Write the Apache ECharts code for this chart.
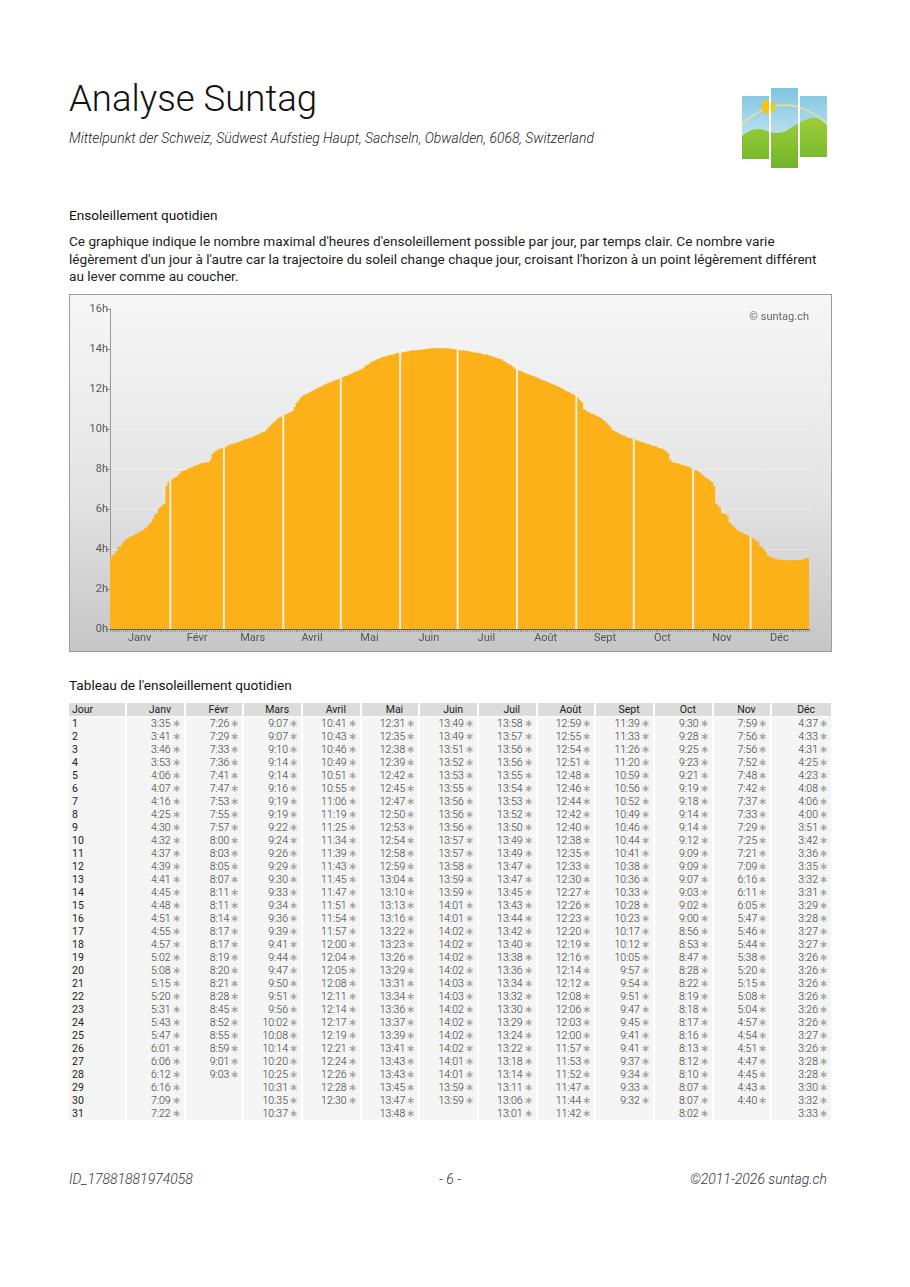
<!DOCTYPE html>
<html lang="fr">
<head>
<meta charset="utf-8">
<title>Analyse Suntag</title>
<script src="https://cdn.jsdelivr.net/npm/echarts@6/dist/echarts.min.js"></script>
<style>
  html, body { margin: 0; padding: 0; background: #fff; }
  body { width: 910px; height: 1287px; position: relative; font-family: Roboto, "Noto Sans", sans-serif; color: #222; }
  .abs { position: absolute; }
  #title { left: 69px; top: 77px; font-size: 36.6px; font-weight: 300; color: #111; white-space: nowrap; }
  #subtitle { left: 69px; top: 130px; font-size: 13.9px; font-style: italic; font-weight: 300; color: #222; white-space: nowrap; }
  #logo { left: 740px; top: 86px; }
  #h1 { left: 69px; top: 207px; font-size: 13.6px; color: #111; }
  #intro { left: 69px; top: 233px; font-size: 13.6px; line-height: 17.6px; color: #222; white-space: nowrap; }
  #chart { left: 69px; top: 294px; width: 763px; height: 358px; box-sizing: border-box; border: 1px solid #9c9c9c;
           background: linear-gradient(to bottom, #f7f7f7 0%, #e4e4e4 55%, #c6c6c6 100%); }
  #h2 { left: 69px; top: 677px; font-size: 13.6px; color: #111; }
  #tbl { left: 69px; top: 703px; width: 762px; border-collapse: separate; border-spacing: 0; table-layout: fixed; font-size: 10.5px; }
  #tbl th { background: #dcdcdc; font-weight: 400; color: #222; height: 13px; line-height: 13px; padding: 0 0 0 9px; text-align: center; border-right: 2px solid #fff; border-bottom: 1px solid #fff; }
  #tbl th:first-child { text-align: left; padding-left: 3px; }
  #tbl td { background: #f5f5f5; height: 13px; line-height: 13px; padding: 0 3px 0 0; text-align: right; font-weight: 300; color: #333; border-right: 2px solid #fff; white-space: nowrap; }
  #tbl td:first-child { text-align: left; padding-left: 3px; font-weight: 400; color: #222; }
  #tbl th:last-child, #tbl td:last-child { border-right: none; }
  #tbl .st { color: #999; margin-left: 1px; }
  .foot { top: 1171px; font-size: 14px; font-style: italic; font-weight: 300; color: #333; white-space: nowrap; }
</style>
</head>
<body>
<div id="title" class="abs">Analyse Suntag</div>
<div id="subtitle" class="abs">Mittelpunkt der Schweiz, Südwest Aufstieg Haupt, Sachseln, Obwalden, 6068, Switzerland</div>

<svg id="logo" class="abs" width="90" height="84" viewBox="0 0 90 84">
  <defs>
    <linearGradient id="sky" x1="0" y1="0" x2="0" y2="1">
      <stop offset="0" stop-color="#7cc3e0"/>
      <stop offset="1" stop-color="#e6f4f9"/>
    </linearGradient>
    <linearGradient id="hill" x1="0" y1="0" x2="0" y2="1">
      <stop offset="0" stop-color="#9ccf3a"/>
      <stop offset="1" stop-color="#6fb327"/>
    </linearGradient>
    <g id="scene">
      <rect x="0" y="0" width="90" height="84" fill="url(#sky)"/>
      <path d="M0 40 Q45 -2 90 40" fill="none" stroke="#eee48a" stroke-width="1.3"/>
      <circle cx="28" cy="21" r="7" fill="#f7c21b"/>
      <path d="M0 52 Q12 40 24 44 Q38 50 48 44 Q58 36 70 32 Q82 30 90 44 L90 84 L0 84 Z" fill="url(#hill)"/>
    </g>
    <clipPath id="p1"><rect x="2" y="10" width="27" height="63"/></clipPath>
    <clipPath id="p2"><rect x="31" y="2" width="27" height="80"/></clipPath>
    <clipPath id="p3"><rect x="60" y="10" width="27" height="61"/></clipPath>
  </defs>
  <use href="#scene" clip-path="url(#p1)"/>
  <use href="#scene" clip-path="url(#p2)"/>
  <use href="#scene" clip-path="url(#p3)"/>
</svg>

<div id="h1" class="abs">Ensoleillement quotidien</div>
<div id="intro" class="abs">Ce graphique indique le nombre maximal d'heures d'ensoleillement possible par jour, par temps clair. Ce nombre varie<br>légèrement d'un jour à l'autre car la trajectoire du soleil change chaque jour, croisant l'horizon à un point légèrement différent<br>au lever comme au coucher.</div>

<div id="chart" class="abs"></div>

<div id="h2" class="abs">Tableau de l'ensoleillement quotidien</div>
<table id="tbl" class="abs"></table>

<div class="abs foot" style="left:69px">ID_17881881974058</div>
<div class="abs foot" style="left:0; width:900px; text-align:center">- 6 -</div>
<div class="abs foot" style="right:83px">©2011-2026 suntag.ch</div>

<script>
// mois (libellés de l'axe et du tableau)
const monthNames = ['Janv', 'Févr', 'Mars', 'Avril', 'Mai', 'Juin', 'Juil', 'Août', 'Sept', 'Oct', 'Nov', 'Déc']

// ensoleillement max par jour (h:mm), lu dans le tableau
const janv = ['3:35','3:41','3:46','3:53','4:06','4:07','4:16','4:25','4:30','4:32','4:37','4:39','4:41','4:45','4:48','4:51','4:55','4:57','5:02','5:08','5:15','5:20','5:31','5:43','5:47','6:01','6:06','6:12','6:16','7:09','7:22']
const fevr = ['7:26','7:29','7:33','7:36','7:41','7:47','7:53','7:55','7:57','8:00','8:03','8:05','8:07','8:11','8:11','8:14','8:17','8:17','8:19','8:20','8:21','8:28','8:45','8:52','8:55','8:59','9:01','9:03']
const mars = ['9:07','9:07','9:10','9:14','9:14','9:16','9:19','9:19','9:22','9:24','9:26','9:29','9:30','9:33','9:34','9:36','9:39','9:41','9:44','9:47','9:50','9:51','9:56','10:02','10:08','10:14','10:20','10:25','10:31','10:35','10:37']
const avril = ['10:41','10:43','10:46','10:49','10:51','10:55','11:06','11:19','11:25','11:34','11:39','11:43','11:45','11:47','11:51','11:54','11:57','12:00','12:04','12:05','12:08','12:11','12:14','12:17','12:19','12:21','12:24','12:26','12:28','12:30']
const mai = ['12:31','12:35','12:38','12:39','12:42','12:45','12:47','12:50','12:53','12:54','12:58','12:59','13:04','13:10','13:13','13:16','13:22','13:23','13:26','13:29','13:31','13:34','13:36','13:37','13:39','13:41','13:43','13:43','13:45','13:47','13:48']
const juin = ['13:49','13:49','13:51','13:52','13:53','13:55','13:56','13:56','13:56','13:57','13:57','13:58','13:59','13:59','14:01','14:01','14:02','14:02','14:02','14:02','14:03','14:03','14:02','14:02','14:02','14:02','14:01','14:01','13:59','13:59']
const juil = ['13:58','13:57','13:56','13:56','13:55','13:54','13:53','13:52','13:50','13:49','13:49','13:47','13:47','13:45','13:43','13:44','13:42','13:40','13:38','13:36','13:34','13:32','13:30','13:29','13:24','13:22','13:18','13:14','13:11','13:06','13:01']
const aout = ['12:59','12:55','12:54','12:51','12:48','12:46','12:44','12:42','12:40','12:38','12:35','12:33','12:30','12:27','12:26','12:23','12:20','12:19','12:16','12:14','12:12','12:08','12:06','12:03','12:00','11:57','11:53','11:52','11:47','11:44','11:42']
const sept = ['11:39','11:33','11:26','11:20','10:59','10:56','10:52','10:49','10:46','10:44','10:41','10:38','10:36','10:33','10:28','10:23','10:17','10:12','10:05','9:57','9:54','9:51','9:47','9:45','9:41','9:41','9:37','9:34','9:33','9:32']
const octo = ['9:30','9:28','9:25','9:23','9:21','9:19','9:18','9:14','9:14','9:12','9:09','9:09','9:07','9:03','9:02','9:00','8:56','8:53','8:47','8:28','8:22','8:19','8:18','8:17','8:16','8:13','8:12','8:10','8:07','8:07','8:02']
const nov = ['7:59','7:56','7:56','7:52','7:48','7:42','7:37','7:33','7:29','7:25','7:21','7:09','6:16','6:11','6:05','5:47','5:46','5:44','5:38','5:20','5:15','5:08','5:04','4:57','4:54','4:51','4:47','4:45','4:43','4:40']
const dec = ['4:37','4:33','4:31','4:25','4:23','4:08','4:06','4:00','3:51','3:42','3:36','3:35','3:32','3:31','3:29','3:28','3:27','3:27','3:26','3:26','3:26','3:26','3:26','3:26','3:27','3:26','3:28','3:28','3:30','3:32','3:33']

const months = [janv, fevr, mars, avril, mai, juin, juil, aout, sept, octo, nov, dec]
const yTicks = [0, 2, 4, 6, 8, 10, 12, 14, 16]

const toHours = s => {
  const [h, m] = s.split(':').map(Number)
  return h + m / 60
}

// --- tableau ---
const tbl = document.getElementById('tbl')
let html = '<colgroup><col style="width:58px">' + monthNames.map(() => '<col>').join('') + '</colgroup>'
html += '<tr><th>Jour</th>' + monthNames.map(n => `<th>${n}</th>`).join('') + '</tr>'
for (let d = 0; d < 31; d++) {
  html += `<tr><td>${d + 1}</td>`
  months.forEach(m => {
    html += m[d] ? `<td>${m[d]}<span class="st">∗</span></td>` : '<td></td>'
  })
  html += '</tr>'
}
tbl.innerHTML = html

// --- graphique ---
const barColor = '#fbb117'
const sepColor = '#f3efe6'
const categories = []
const dayValues = []
const sepValues = []   // 1er jour de chaque mois -> trait clair
const monthOfIndex = []
const labelIndex = new Set()
months.forEach((m, mi) => {
  labelIndex.add(categories.length + Math.floor(m.length / 2))
  m.forEach((v, di) => {
    categories.push(`${mi + 1}-${di + 1}`)
    monthOfIndex.push(mi)
    dayValues.push(toHours(v))
    sepValues.push(di === 0 && mi > 0 ? toHours(v) : '-')
  })
})

const chart = echarts.init(document.getElementById('chart'))
chart.setOption({
  backgroundColor: 'transparent',
  animation: false,
  textStyle: { fontFamily: 'Roboto, sans-serif' },
  grid: { left: 40, right: 22, top: 14, bottom: 22 },
  graphic: [{
    type: 'text',
    right: 22,
    top: 17,
    style: { text: '© suntag.ch', fill: '#666', font: '11px Roboto, sans-serif' }
  }],
  xAxis: {
    type: 'category',
    data: categories,
    boundaryGap: true,
    axisLine: { lineStyle: { color: '#555', width: 1 } },
    axisTick: { show: true, interval: 0, length: 3, lineStyle: { color: '#777', width: 0.6 } },
    axisLabel: {
      interval: idx => labelIndex.has(idx),
      formatter: (val, idx) => monthNames[monthOfIndex[idx]],
      color: '#555',
      fontSize: 11,
      margin: 4
    },
    splitLine: { show: false }
  },
  yAxis: {
    type: 'value',
    min: yTicks[0],
    max: yTicks[yTicks.length - 1],
    interval: 2,
    axisLine: { show: true, lineStyle: { color: '#999' } },
    axisTick: { show: true, length: 3, lineStyle: { color: '#999' } },
    axisLabel: { formatter: '{value}h', color: '#555', fontSize: 11, margin: 2 },
    splitLine: { show: true, lineStyle: { color: 'rgba(255,255,255,0.75)', type: 'dotted', width: 1 } }
  },
  series: [
    {
      type: 'bar',
      data: dayValues,
      barCategoryGap: '0%',
      barGap: '-100%',
      large: true,
      largeThreshold: 50,
      itemStyle: { color: barColor },
      silent: true
    },
    {
      type: 'bar',
      data: sepValues,
      barCategoryGap: '0%',
      barGap: '-100%',
      z: 3,
      itemStyle: { color: sepColor },
      silent: true
    }
  ]
})
</script>
</body>
</html>
